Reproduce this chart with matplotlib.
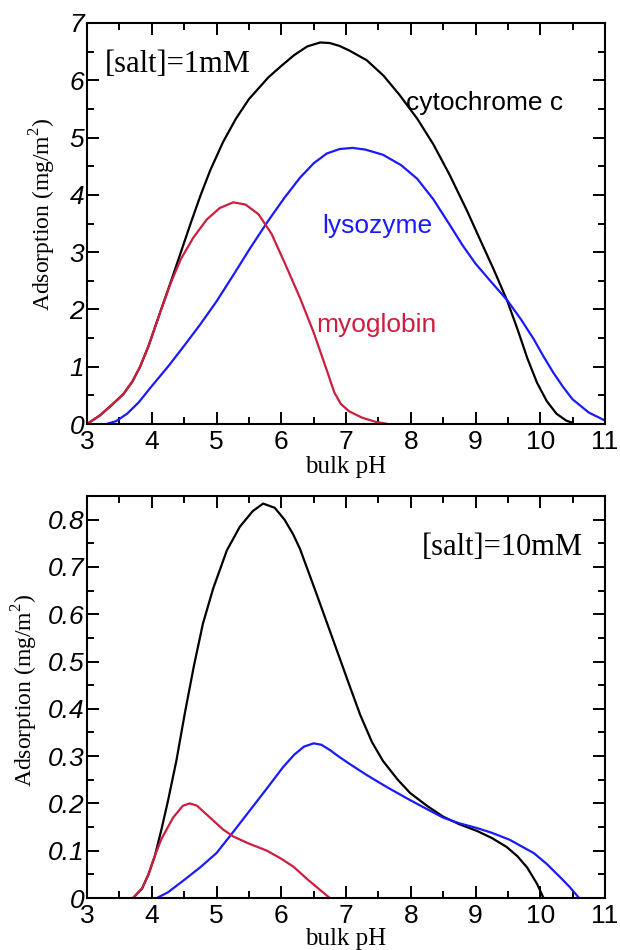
import matplotlib
matplotlib.use("Agg")
import matplotlib.pyplot as plt
from matplotlib.ticker import MultipleLocator, FixedLocator, FuncFormatter

# ---- [salt] = 1 mM ----
cyt1_ph = [3.0, 3.2, 3.4, 3.56, 3.7, 3.82, 3.95, 4.13, 4.3, 4.45, 4.6, 4.75, 4.9,
           5.1, 5.3, 5.5, 5.8, 6.0, 6.2, 6.4, 6.6, 6.75, 6.9, 7.05, 7.32, 7.58,
           7.83, 8.1, 8.35, 8.6, 8.87, 9.07, 9.28, 9.49, 9.65, 9.8, 9.95, 10.1,
           10.25, 10.4, 10.5]
cyt1_ads = [0.0, 0.15, 0.35, 0.52, 0.74, 1.0, 1.36, 1.95, 2.5, 3.0, 3.5, 3.98, 4.42,
            4.92, 5.33, 5.67, 6.05, 6.25, 6.44, 6.59, 6.66, 6.65, 6.6, 6.52, 6.35,
            6.08, 5.74, 5.33, 4.88, 4.35, 3.72, 3.22, 2.7, 2.15, 1.65, 1.15, 0.72,
            0.4, 0.18, 0.06, 0.02]

lys1_ph = [3.3, 3.45, 3.62, 3.8, 3.97, 4.25, 4.49, 4.75, 5.0, 5.26, 5.52, 5.8, 6.05,
           6.29, 6.5, 6.7, 6.9, 7.1, 7.3, 7.57, 7.85, 8.1, 8.35, 8.6, 8.8, 9.0,
           9.25, 9.49, 9.7, 9.9, 10.05, 10.2, 10.35, 10.5, 10.75, 11.0]
lys1_ads = [0.0, 0.05, 0.18, 0.38, 0.62, 1.0, 1.35, 1.74, 2.14, 2.6, 3.07, 3.55, 3.95,
            4.3, 4.55, 4.72, 4.8, 4.82, 4.79, 4.7, 4.52, 4.28, 3.92, 3.48, 3.12, 2.8,
            2.47, 2.16, 1.83, 1.48, 1.18, 0.9, 0.65, 0.43, 0.2, 0.06]

myo1_ph = [3.0, 3.2, 3.4, 3.56, 3.7, 3.82, 3.95, 4.13, 4.3, 4.45, 4.64, 4.85, 5.05,
           5.26, 5.45, 5.65, 5.85, 6.05, 6.29, 6.5, 6.7, 6.82, 6.92, 7.05, 7.25,
           7.45, 7.65]
myo1_ads = [0.0, 0.15, 0.35, 0.52, 0.74, 1.0, 1.36, 1.95, 2.48, 2.88, 3.25, 3.57, 3.77,
            3.87, 3.83, 3.66, 3.32, 2.82, 2.2, 1.6, 0.95, 0.55, 0.35, 0.22, 0.11,
            0.04, 0.0]

# ---- [salt] = 10 mM ----
cyt10_ph = [3.71, 3.85, 3.95, 4.05, 4.15, 4.25, 4.38, 4.51, 4.65, 4.79, 4.95, 5.16,
            5.36, 5.56, 5.72, 5.9, 6.05, 6.18, 6.29, 6.4, 6.55, 6.8, 7.06, 7.22, 7.4,
            7.57, 7.8, 7.99, 8.25, 8.5, 8.75, 9.02, 9.25, 9.48, 9.65, 9.8, 9.95,
            10.05]
cyt10_ads = [0.0, 0.02, 0.05, 0.09, 0.145, 0.205, 0.29, 0.39, 0.49, 0.58, 0.655,
             0.735, 0.785, 0.818, 0.834, 0.825, 0.8, 0.77, 0.738, 0.697, 0.641,
             0.546, 0.447, 0.387, 0.33, 0.29, 0.25, 0.222, 0.195, 0.172, 0.156,
             0.142, 0.127, 0.108, 0.088, 0.064, 0.03, 0.0]

lys10_ph = [4.08, 4.25, 4.49, 4.75, 5.0, 5.26, 5.52, 5.78, 6.03, 6.2, 6.35, 6.5,
            6.62, 6.75, 6.9, 7.05, 7.32, 7.65, 7.99, 8.25, 8.5, 8.75, 9.02, 9.25,
            9.53, 9.7, 9.9, 10.1, 10.3, 10.45, 10.6]
lys10_ads = [0.0, 0.012, 0.037, 0.065, 0.095, 0.14, 0.186, 0.232, 0.277, 0.303, 0.32,
             0.327, 0.324, 0.313, 0.298, 0.284, 0.26, 0.233, 0.207, 0.188, 0.17,
             0.158, 0.148, 0.138, 0.123, 0.11, 0.095, 0.072, 0.045, 0.024, 0.0]

myo10_ph = [3.71, 3.85, 3.95, 4.05, 4.15, 4.33, 4.48, 4.59, 4.7, 4.9, 5.1, 5.26, 5.5,
            5.78, 6.0, 6.19, 6.4, 6.6, 6.75]
myo10_ads = [0.0, 0.02, 0.05, 0.09, 0.125, 0.17, 0.195, 0.2, 0.195, 0.17, 0.145, 0.13,
             0.115, 0.1, 0.083, 0.066, 0.04, 0.017, 0.0]

C_CYT = "black"
C_LYS = "#1a1aff"
C_MYO = "#cc1f3f"

W, H = 620, 950
fig = plt.figure(figsize=(W / 100, H / 100), dpi=100)
fig.patch.set_facecolor("white")

serif = "Liberation Serif"
sans = "Liberation Sans"
plt.rcParams["mathtext.fontset"] = "custom"
plt.rcParams["mathtext.rm"] = serif


def px_axes(l, t, r, b):
    return fig.add_axes([l / W, 1 - b / H, (r - l) / W, (b - t) / H])


def style(ax, ymax, ymajor, yminor, fmt):
    ax.set_xlim(3, 11)
    ax.set_ylim(0, ymax)
    ax.xaxis.set_major_locator(MultipleLocator(1))
    ax.xaxis.set_minor_locator(MultipleLocator(0.5))
    ax.yaxis.set_major_locator(FixedLocator(ymajor))
    ax.yaxis.set_minor_locator(MultipleLocator(yminor))
    ax.yaxis.set_major_formatter(FuncFormatter(fmt))
    for s in ax.spines.values():
        s.set_linewidth(1.5)
    ax.tick_params(which="both", direction="in", top=True, right=True, width=1.4)
    ax.tick_params(which="major", length=8.5)
    ax.tick_params(which="minor", length=5)
    ax.tick_params(axis="x", which="major", pad=4, labelsize=19)
    ax.tick_params(axis="y", which="major", pad=2, labelsize=19)
    for lab in ax.get_xticklabels():
        lab.set_fontfamily(sans)
    for lab in ax.get_yticklabels():
        lab.set_fontfamily(sans)
        lab.set_fontstyle("italic")


lw = 1.6
kw = dict(lw=lw, solid_joinstyle="round", solid_capstyle="round")

# top panel
ax1 = px_axes(87, 23, 605, 424)
ax1.plot(cyt1_ph, cyt1_ads, color=C_CYT, **kw)
ax1.plot(lys1_ph, lys1_ads, color=C_LYS, **kw)
ax1.plot(myo1_ph, myo1_ads, color=C_MYO, **kw)
style(ax1, 7, list(range(0, 8)), 0.5, lambda v, p: "%d" % round(v))
ax1.text(3.28, 6.14, "[salt]=1mM", family=serif, fontsize=22, ha="left", va="baseline")
ax1.text(7.93, 5.48, "cytochrome c", family=sans, fontsize=19, color=C_CYT,
         ha="left", va="baseline")
ax1.text(6.64, 3.33, "lysozyme", family=sans, fontsize=19, color=C_LYS,
         ha="left", va="baseline")
ax1.text(6.54, 1.61, "myoglobin", family=sans, fontsize=19, color=C_MYO,
         ha="left", va="baseline")

# bottom panel
ax2 = px_axes(87, 496, 605, 898)
ax2.plot(cyt10_ph, cyt10_ads, color=C_CYT, **kw)
ax2.plot(lys10_ph, lys10_ads, color=C_LYS, **kw)
ax2.plot(myo10_ph, myo10_ads, color=C_MYO, **kw)
style(ax2, 0.85, [round(0.1 * i, 1) for i in range(9)], 0.05,
      lambda v, p: "0" if abs(v) < 1e-9 else "%.1f" % v)
ax2.text(8.17, 0.726, "[salt]=10mM", family=serif, fontsize=22, ha="left", va="baseline")

# axis titles
ylab = r"Adsorption (mg/m$^2$)"
fig.text(43 / W, 1 - 214 / H, ylab, family=serif, fontsize=17, rotation=90,
         ha="center", va="center")
fig.text(25 / W, 1 - 690 / H, ylab, family=serif, fontsize=17, rotation=90,
         ha="center", va="center")
fig.text(346 / W, 1 - 473 / H, "bulk pH", family=serif, fontsize=18,
         ha="center", va="baseline")
fig.text(346 / W, 1 - 945 / H, "bulk pH", family=serif, fontsize=18,
         ha="center", va="baseline")

fig.savefig("out.png", dpi=100, facecolor="white")
